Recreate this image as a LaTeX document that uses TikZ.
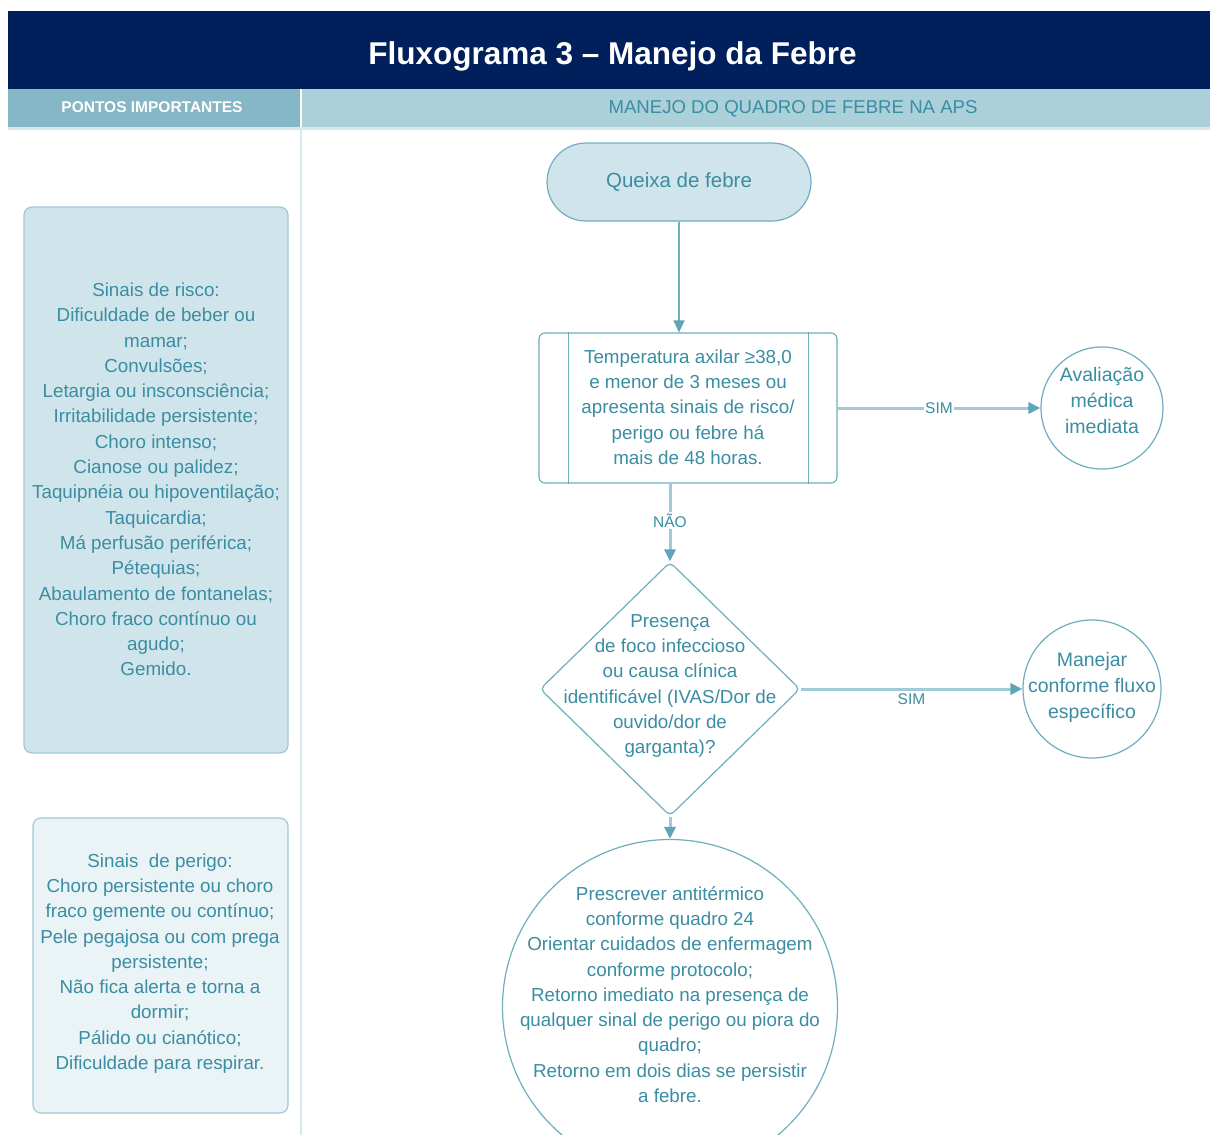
\documentclass[tikz,border=0pt]{standalone}
\usepackage{fontspec}
\setmainfont{Liberation Sans}
\usetikzlibrary{shapes.geometric,arrows.meta}
\definecolor{navy}{RGB}{1,31,91}
\definecolor{hdrL}{RGB}{133,183,198}
\definecolor{hdrR}{RGB}{171,208,218}
\definecolor{tealtxt}{RGB}{58,141,162}
\definecolor{edge}{RGB}{110,174,192}
\definecolor{fillA}{RGB}{208,229,235}
\definecolor{fillB}{RGB}{234,243,246}
\definecolor{conn}{RGB}{160,202,214}
\definecolor{tipc}{RGB}{95,165,185}
\definecolor{divc}{RGB}{214,232,238}
\begin{document}
\begin{tikzpicture}[x=1pt,y=-1pt,
  body/.style={font=\fontsize{18.8}{25.3}\selectfont, text=tealtxt, align=center, inner sep=0pt},
  circtext/.style={font=\fontsize{19.5}{26}\selectfont, text=tealtxt, align=center, inner sep=0pt},
  shapeline/.style={draw=edge, line width=1.2pt},
  flow/.style={draw=conn, line width=3pt, -{Triangle[length=12pt,width=11pt,color=tipc]}},
  thinflow/.style={draw=edge, line width=1.5pt, -{Triangle[length=12pt,width=11pt,color=tipc]}},
  lab/.style={font=\fontsize{15.5}{18}\selectfont, text=tealtxt, inner sep=1.5pt},
  sidebox/.style={draw=conn, line width=1.2pt, rounded corners=8pt, inner sep=0pt}
]
\useasboundingbox (0,0) rectangle (1210,1135);
\clip (0,0) rectangle (1210,1135);
\fill[white] (0,0) rectangle (1210,1135);

% header
\fill[navy] (8,11) rectangle (1210,89);
\node[font=\bfseries\fontsize{31.5}{36}\selectfont, text=white, inner sep=0pt] (title) at (612.5,56.5) {Fluxograma 3 – Manejo da Febre};
\fill[hdrL] (8,89) rectangle (300,128);
\fill[hdrR] (302,89) rectangle (1210,128);
\fill[divc] (8,127) rectangle (1210,130);
\node[font=\bfseries\fontsize{15.5}{18}\selectfont, text=white, inner sep=0pt] (pontos) at (152,107) {PONTOS IMPORTANTES};
\node[font=\fontsize{18.6}{22}\selectfont, text=tealtxt, inner sep=0pt] (manejo) at (793,108.5) {MANEJO DO QUADRO DE FEBRE NA APS};
\draw[divc, line width=2pt] (301,130) -- (301,1135);

% left boxes
\node[sidebox, fill=fillA, minimum width=264pt, minimum height=546pt] (risk) at (156,480) {};
\node[body] (risktext) at (156,479.5) {Sinais de risco:\\ Dificuldade de beber ou\\ mamar;\\ Convulsões;\\ Letargia ou insconsciência;\\ Irritabilidade persistente;\\ Choro intenso;\\ Cianose ou palidez;\\ Taquipnéia ou hipoventilação;\\ Taquicardia;\\ Má perfusão periférica;\\ Pétequias;\\ Abaulamento de fontanelas;\\ Choro fraco contínuo ou\\ agudo;\\ Gemido.};

\node[sidebox, fill=fillB, minimum width=255pt, minimum height=295pt] (perigo) at (160.5,965.5) {};
\node[body] (perigotext) at (160,963.5) {Sinais~ de perigo:\\ Choro persistente ou choro\\ fraco gemente ou contínuo;\\ Pele pegajosa ou com prega\\ persistente;\\ Não fica alerta e torna a\\ dormir;\\ Pálido ou cianótico;\\ Dificuldade para respirar.};

% flowchart
\node[shapeline, fill=fillA, rounded corners=39pt, minimum width=264pt, minimum height=78pt, inner sep=0pt,
      font=\fontsize{20.5}{25}\selectfont, text=tealtxt] (queixa) at (679,182) {Queixa de febre};

\node[shapeline, fill=white, rounded corners=6pt, minimum width=298pt, minimum height=150pt, inner sep=0pt] (proc) at (688,408) {};
\draw[edge, line width=1.2pt] ([xshift=30pt]proc.north west) -- ([xshift=30pt]proc.south west);
\draw[edge, line width=1.2pt] ([xshift=-29pt]proc.north east) -- ([xshift=-29pt]proc.south east);
\node[body] (proctext) at (688,407) {Temperatura axilar ≥38,0\\ e menor de 3 meses ou\\ apresenta sinais de risco/\\ perigo ou febre há\\ mais de 48 horas.};

\node[shapeline, fill=white, circle, minimum size=122pt, inner sep=0pt] (aval) at (1102,408) {};
\node[circtext] (avaltext) at (1102,401) {Avaliação\\ médica\\ imediata};

\node[shapeline, fill=white, diamond, rounded corners=5pt, minimum width=260pt, minimum height=254pt, inner sep=0pt] (dia) at (670,689) {};
\node[body] (diatext) at (670,686) {Presença\\ de foco infeccioso\\ ou causa clínica\\ identificável (IVAS/Dor de\\ ouvido/dor de\\ garganta)?};

\node[shapeline, fill=white, circle, minimum size=138pt, inner sep=0pt] (manej) at (1092,689) {};
\node[circtext] (manejtext) at (1092,687) {Manejar\\ conforme fluxo\\ específico};

\node[shapeline, fill=white, circle, minimum size=335pt, inner sep=0pt] (presc) at (670,1007) {};
\node[body] (presctext) at (670,994.5) {Prescrever antitérmico\\ conforme quadro 24\\ Orientar cuidados de enfermagem\\ conforme protocolo;\\ Retorno imediato na presença de\\ qualquer sinal de perigo ou piora do\\ quadro;\\ Retorno em dois dias se persistir\\ a febre.};

% connectors
\draw[thinflow] (queixa.south) -- (queixa.south |- proc.north);
\draw[flow] (proc.east) -- node[lab, fill=white] (sim1) {SIM} (aval.west);
\draw[flow] (proc.south -| dia.north) -- node[lab, fill=white, yshift=2pt] (nao) {NÃO} (dia.north);
\draw[flow] (dia.east) -- node[lab, below, yshift=-2pt] (sim2) {SIM} (manej.west);
\draw[flow] (dia.south) -- (presc.north);
\end{tikzpicture}
\end{document}
